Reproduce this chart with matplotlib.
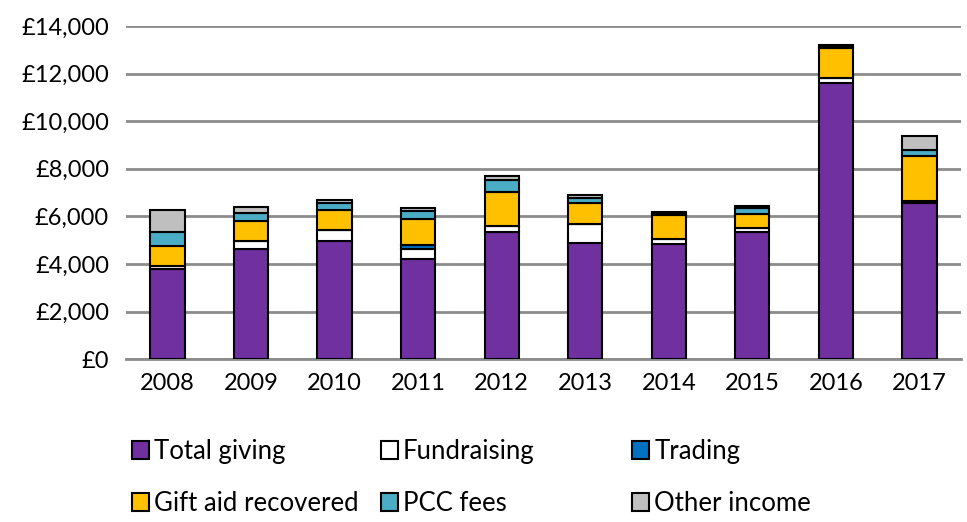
import numpy as np
import matplotlib.pyplot as plt
from matplotlib.ticker import FuncFormatter
from matplotlib.patches import Patch

years = ["2008", "2009", "2010", "2011", "2012", "2013", "2014", "2015", "2016", "2017"]
total_giving = [3780, 4650, 4950, 4230, 5350, 4880, 4830, 5360, 11620, 6580]
fundraising = [130, 320, 460, 380, 250, 790, 210, 140, 180, 60]
trading = [0, 0, 0, 180, 0, 0, 0, 0, 0, 0]
gift_aid = [830, 830, 870, 1090, 1410, 900, 1000, 590, 1280, 1900]
pcc_fees = [600, 350, 280, 340, 500, 220, 50, 250, 40, 250]
other_income = [950, 250, 110, 150, 180, 130, 80, 110, 80, 590]

series = [
    ("Total giving", total_giving, "#7030A0"),
    ("Fundraising", fundraising, "#FFFFFF"),
    ("Trading", trading, "#0070C0"),
    ("Gift aid recovered", gift_aid, "#FFC000"),
    ("PCC fees", pcc_fees, "#4BACC6"),
    ("Other income", other_income, "#BFBFBF"),
]

plt.rcParams["font.family"] = ["Lato", "DejaVu Sans"]

fig = plt.figure(figsize=(9.67, 5.22), dpi=100)
ax = fig.add_axes([0.130, 0.312, 0.864, 0.638])

x = np.arange(len(years))
bottom = np.zeros(len(years))
for name, vals, col in series:
    vals = np.array(vals, dtype=float)
    ax.bar(x, vals, 0.41, bottom=bottom, color=col, edgecolor="black",
           linewidth=1.5, zorder=3)
    bottom += vals

ax.set_xlim(-0.5, len(years) - 0.5)
ax.set_ylim(0, 14000)
ax.set_yticks(np.arange(0, 14001, 2000))
ax.yaxis.set_major_formatter(FuncFormatter(lambda v, p: "£{:,.0f}".format(v)))
ax.set_xticks(x)
ax.set_xticklabels(years)
ax.grid(axis="y", color="#8C8C8C", linewidth=2, zorder=0)
for s in ["top", "right", "left"]:
    ax.spines[s].set_visible(False)
ax.spines["bottom"].set_color("#8C8C8C")
ax.spines["bottom"].set_linewidth(2)
ax.tick_params(axis="both", length=0, labelsize=17, pad=10)
ax.tick_params(axis="y", pad=12)

# legend laid out as three equal columns, like the original
cols = [(0, 3), (1, 4), (2, 5)]
xpos = [0.137, 0.394, 0.654]
for (i, j), xp in zip(cols, xpos):
    handles = [Patch(facecolor=series[k][2], edgecolor="black", linewidth=1.5,
                     label=series[k][0]) for k in (i, j)]
    fig.legend(handles=handles, loc="upper left", bbox_to_anchor=(xp, 0.159),
               frameon=False, fontsize=18.5, handlelength=0.65, handleheight=0.65,
               handletextpad=0.2, labelspacing=1.05, borderpad=0, borderaxespad=0)

fig.savefig("out.png", dpi=100)
